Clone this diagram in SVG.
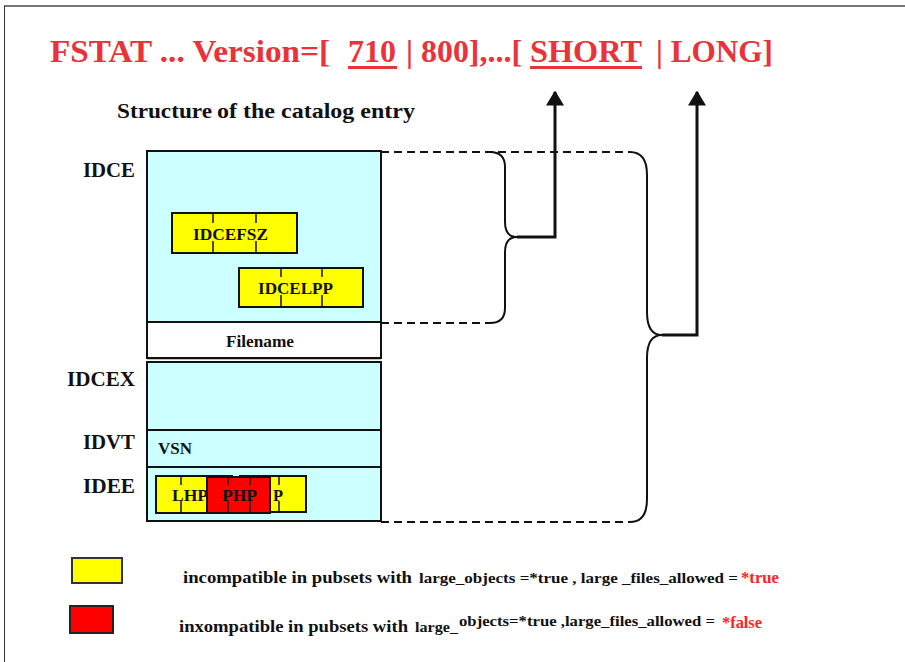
<svg xmlns="http://www.w3.org/2000/svg" width="905" height="662" viewBox="0 0 905 662">
<style>
.t{font-family:'Liberation Serif','Times New Roman',serif;font-weight:bold;fill:#111}
.red{fill:#E8333A}
.lr{fill:#FF2222}
.sec{fill:#CCFFFF;stroke:#111;stroke-width:2}
.yb{fill:#FFFF00;stroke:#111;stroke-width:2}
.rb{fill:#FF0000;stroke:#111;stroke-width:2}
.tick{stroke:#111;stroke-width:1.5}
.dash{stroke:#111;stroke-width:2;stroke-dasharray:8 5;fill:none}
.brace{stroke:#111;stroke-width:2;fill:none}
.arr{stroke:#111;stroke-width:3;fill:none}
</style>
<defs>
<marker id="ah" markerWidth="5" markerHeight="6" refX="4.5" refY="3" orient="auto" markerUnits="strokeWidth">
<path d="M0,0 L5,3 L0,6 Z" fill="#111"/>
</marker>
</defs>
<rect x="0" y="0" width="905" height="662" fill="#fff"/>
<line x1="4" y1="6" x2="905" y2="6" stroke="#777" stroke-width="2"/>
<line x1="4.5" y1="6" x2="4.5" y2="662" stroke="#333" stroke-width="1"/>

<g id="title">
<text class="t red" y="62" font-size="32"><tspan x="50" textLength="280" lengthAdjust="spacingAndGlyphs">FSTAT ... Version=[</tspan><tspan x="348" textLength="48" lengthAdjust="spacingAndGlyphs">710</tspan><tspan x="406" textLength="116" lengthAdjust="spacingAndGlyphs">| 800],...[</tspan><tspan x="530" textLength="112" lengthAdjust="spacingAndGlyphs">SHORT</tspan><tspan x="656" textLength="117" lengthAdjust="spacingAndGlyphs">| LONG]</tspan></text>
<line x1="348" y1="67.5" x2="397" y2="67.5" stroke="#E8333A" stroke-width="3"/>
<line x1="530" y1="67.5" x2="642" y2="67.5" stroke="#E8333A" stroke-width="3"/>
</g>

<g id="subtitle">
<text class="t" y="118" font-size="22"><tspan x="117" textLength="95" lengthAdjust="spacingAndGlyphs">Structure</tspan><tspan x="217" textLength="198" lengthAdjust="spacingAndGlyphs">of the catalog entry</tspan></text>
</g>

<g id="labels">
<text class="t" x="83" y="177" font-size="20" textLength="52" lengthAdjust="spacingAndGlyphs">IDCE</text>
<text class="t" x="67" y="386" font-size="20" textLength="68" lengthAdjust="spacingAndGlyphs">IDCEX</text>
<text class="t" x="83" y="449" font-size="20" textLength="52" lengthAdjust="spacingAndGlyphs">IDVT</text>
<text class="t" x="83" y="493" font-size="20" textLength="52" lengthAdjust="spacingAndGlyphs">IDEE</text>
</g>

<g id="IDCE">
<rect class="sec" x="147" y="151" width="234" height="171"/>
</g>
<g id="IDCEFSZ">
<rect class="yb" x="172" y="213" width="125" height="40"/>
<line class="tick" x1="213" y1="213" x2="213" y2="223"/><line class="tick" x1="213" y1="241" x2="213" y2="253"/>
<line class="tick" x1="256" y1="213" x2="256" y2="223"/><line class="tick" x1="256" y1="241" x2="256" y2="253"/>
<text class="t" x="193" y="240" font-size="16" textLength="75" lengthAdjust="spacingAndGlyphs">IDCEFSZ</text>
</g>
<g id="IDCELPP">
<rect class="yb" x="239" y="268" width="124" height="39"/>
<line class="tick" x1="281" y1="268" x2="281" y2="277"/><line class="tick" x1="281" y1="295" x2="281" y2="307"/>
<line class="tick" x1="322" y1="268" x2="322" y2="277"/><line class="tick" x1="322" y1="295" x2="322" y2="307"/>
<text class="t" x="258" y="294" font-size="16" textLength="75" lengthAdjust="spacingAndGlyphs">IDCELPP</text>
</g>

<g id="Filename">
<rect x="147" y="322" width="234" height="36" fill="#fff" stroke="#111" stroke-width="2"/>
<text class="t" x="226" y="347" font-size="16" textLength="68" lengthAdjust="spacingAndGlyphs">Filename</text>
</g>

<g id="IDCEX">
<rect class="sec" x="147" y="362" width="234" height="68"/>
<line x1="147" y1="358.5" x2="381" y2="358.5" stroke="#111" stroke-width="1.5"/>
</g>

<g id="IDVT">
<rect class="sec" x="147" y="430" width="234" height="37"/>
<text class="t" x="158" y="454" font-size="16" textLength="34" lengthAdjust="spacingAndGlyphs">VSN</text>
</g>

<g id="IDEE">
<rect class="sec" x="147" y="467" width="234" height="54"/>
</g>
<g id="LHP">
<rect class="yb" x="156" y="476" width="76" height="37"/>
<line class="tick" x1="181" y1="476" x2="181" y2="485"/><line class="tick" x1="181" y1="501" x2="181" y2="513"/>
<text class="t" x="172" y="501" font-size="16" textLength="36" lengthAdjust="spacingAndGlyphs">LHP</text>
</g>
<g id="P">
<rect class="yb" x="240" y="476" width="66" height="36"/>
<line class="tick" x1="279" y1="476" x2="279" y2="485"/><line class="tick" x1="279" y1="501" x2="279" y2="512"/>
<text class="t" x="273" y="501" font-size="16" textLength="10" lengthAdjust="spacingAndGlyphs">P</text>
</g>
<g id="PHP">
<rect class="rb" x="207" y="477" width="63" height="36"/>
<line class="tick" x1="228" y1="477" x2="228" y2="485"/><line class="tick" x1="228" y1="501" x2="228" y2="513"/>
<line class="tick" x1="250" y1="477" x2="250" y2="485"/><line class="tick" x1="250" y1="501" x2="250" y2="513"/>
<text class="t" x="222" y="501" font-size="16" textLength="35" lengthAdjust="spacingAndGlyphs">PHP</text>
</g>

<g id="connectors">
<line class="dash" x1="381" y1="152" x2="630" y2="152"/>
<line class="dash" x1="381" y1="323" x2="490" y2="323"/>
<line class="dash" x1="381" y1="522" x2="630" y2="522"/>
<path class="brace" d="M490,152 Q505,152 505,167 L505,222 Q505,237 517,237 Q505,237 505,252 L505,308 Q505,323 490,323"/>
<path class="brace" d="M630,152 Q647,152 647,175 L647,312 Q647,335 662,335 Q647,335 647,358 L647,499 Q647,522 630,522"/>
<path class="arr" d="M517,237 L555,237 L555,92" marker-end="url(#ah)"/>
<path class="arr" d="M662,335 L697,335 L697,92" marker-end="url(#ah)"/>
</g>

<g id="legend">
<rect x="72" y="558" width="50" height="25" fill="#FFFF00" stroke="#333" stroke-width="2"/>
<rect x="70" y="606" width="43" height="27" fill="#FF0000" stroke="#222" stroke-width="2"/>
<text class="t" x="183" y="583" font-size="17" textLength="229" lengthAdjust="spacingAndGlyphs">incompatible in pubsets with</text>
<text class="t" x="419" y="583" font-size="15" textLength="319" lengthAdjust="spacingAndGlyphs">large_objects =*true , large _files_allowed =</text>
<text class="t lr" x="741" y="583" font-size="17" textLength="38" lengthAdjust="spacingAndGlyphs">*true</text>
<text class="t" x="179" y="632" font-size="17" textLength="229" lengthAdjust="spacingAndGlyphs">inxompatible in pubsets with</text>
<text class="t" x="415" y="632" font-size="15" textLength="43" lengthAdjust="spacingAndGlyphs">large_</text>
<text class="t" x="459" y="626" font-size="14" textLength="256" lengthAdjust="spacingAndGlyphs">objects=*true ,large_files_allowed =</text>
<text class="t lr" x="722" y="628" font-size="17" textLength="40" lengthAdjust="spacingAndGlyphs">*false</text>
</g>
</svg>
